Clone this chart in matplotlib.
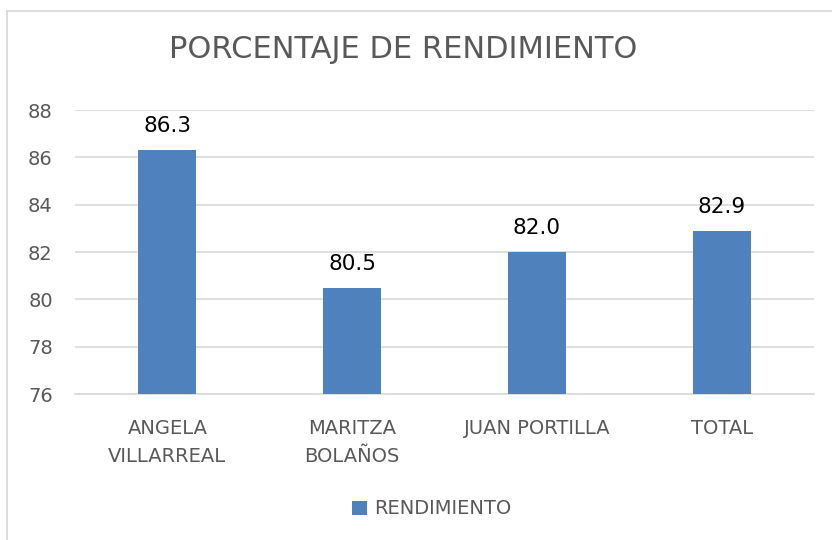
import matplotlib
matplotlib.use('Agg')
import matplotlib.pyplot as plt
from matplotlib.patches import Rectangle
import numpy as np

categorias = ['ANGELA\nVILLARREAL', 'MARITZA\nBOLAÑOS', 'JUAN PORTILLA', 'TOTAL']
rendimiento = [86.3, 80.5, 82.0, 82.9]
etiquetas = ['86.3', '80.5', '82.0', '82.9']
yticks = [76, 78, 80, 82, 84, 86, 88]

gris = '#595959'
azul = '#4F81BD'

fig = plt.figure(figsize=(8.32, 5.40), dpi=100)
# chart frame
fig.patches.append(Rectangle((7/832, -0.1), 2.0, 1 - 11/540 + 0.1, transform=fig.transFigure,
                             fill=False, edgecolor='#D9D9D9', linewidth=1.3, zorder=0))

ax = fig.add_axes([75/832, 1 - 394/540, (814 - 75)/832, (394 - 110)/540])
x = np.arange(len(categorias))
bars = ax.bar(x, rendimiento, width=0.315, color=azul, zorder=3)
ax.set_ylim(76, 88)
ax.set_xlim(-0.5, len(categorias) - 0.5)
ax.set_yticks(yticks)
ax.set_xticks(x)
ax.set_xticklabels(categorias, fontsize=14, color=gris, linespacing=1.6)
ax.tick_params(axis='y', labelsize=14, labelcolor=gris, length=0, pad=16)
ax.tick_params(axis='x', length=0, pad=18)
ax.grid(axis='y', color='#D9D9D9', linewidth=1.2, zorder=0)
for s in ['top', 'right', 'left']:
    ax.spines[s].set_visible(False)
ax.spines['bottom'].set_color('#D9D9D9')
ax.spines['bottom'].set_linewidth(1.2)

for xi, v, t in zip(x, rendimiento, etiquetas):
    ax.annotate(t, (xi, v), xytext=(0, 10), textcoords='offset points',
                ha='center', va='bottom', fontsize=15.5, color='black')

fig.text(403/832, 1 - 49/540, 'PORCENTAJE DE RENDIMIENTO', ha='center', va='center',
         fontsize=22, color=gris)

ax.legend([bars], ['RENDIMIENTO'], loc='center', bbox_to_anchor=(432/832, 1 - 509/540),
          bbox_transform=fig.transFigure, frameon=False, fontsize=14, labelcolor=gris,
          handlelength=0.75, handleheight=0.75, handletextpad=0.4)

fig.savefig('out.png', dpi=100)
